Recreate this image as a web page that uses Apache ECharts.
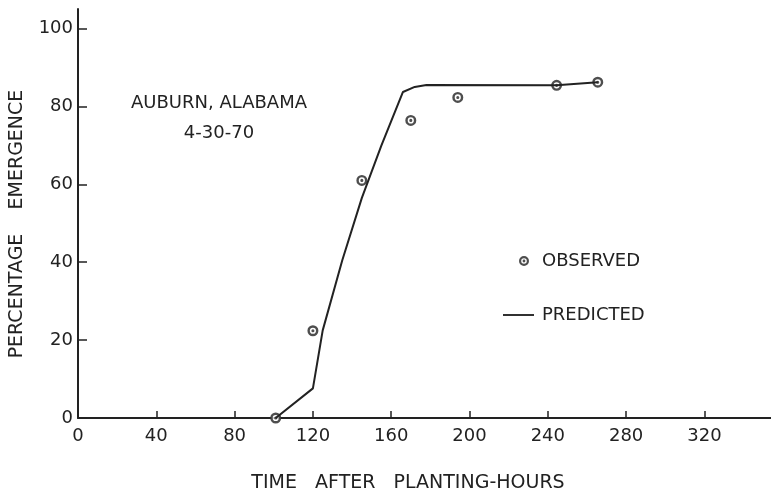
<!DOCTYPE html>
<html>
<head>
<meta charset="utf-8">
<script src="https://cdn.jsdelivr.net/npm/echarts@6/dist/echarts.min.js"></script>
<style>
    html, body {margin: 0; padding: 0; background: #fff;}
    #H_Chart {width: 771px; height: 493px;}
</style>
</head>
<body>
<div id="H_Chart"></div>
<script>
//观测值 (小时, 出苗百分比)
var obsHours = [101, 120, 145, 170, 194, 244.5, 265.5];
var obsPct = [0, 22.4, 61, 76.4, 82.3, 85.4, 86.2];

//预测曲线
var predHours = [101, 120, 125, 135, 145, 155, 166, 172, 178, 244.5, 265.5];
var predPct = [0, 7.6, 22.5, 40.5, 56.5, 70, 83.7, 85, 85.5, 85.4, 86.2];

//刻度
var xTicks = [0, 40, 80, 120, 160, 200, 240, 280, 320];
var yTicks = [0, 20, 40, 60, 80, 100];

var InkColor = "#222";
var FontName = "DejaVu Sans";

//靶心符号 外圈 + 中心点
var TargetPath = "path://M50,0 A50,50 0 1,1 50,100 A50,50 0 1,1 50,0 Z " +
    "M50,22 A28,28 0 1,0 50,78 A28,28 0 1,0 50,22 Z " +
    "M50,36 A14,14 0 1,1 50,64 A14,14 0 1,1 50,36 Z";

function Pairs(xs, ys) {
    var out = [];
    for (var i = 0; i < xs.length; i++) {
        out.push([xs[i], ys[i]]);
    }
    return out;
}

var Chart = echarts.init(document.getElementById("H_Chart"));
Chart.setOption({
    backgroundColor: "#fff",
    animation: false,
    grid: {left: 78, right: 0, top: 9, bottom: 75},
    textStyle: {fontFamily: FontName, color: InkColor},
    //两个图例分开放, 文字对齐
    legend: [
        {
            data: [{name: "OBSERVED", icon: TargetPath}],
            left: 514, top: 247,
            itemWidth: 10, itemHeight: 10,
            textStyle: {fontSize: 18, color: InkColor, fontFamily: FontName, padding: [0, 0, 0, 8]}
        },
        {
            data: [{name: "PREDICTED", icon: "path://M0,0 L100,0 L100,6 L0,6 Z"}],
            left: 498, top: 301,
            itemWidth: 31, itemHeight: 2,
            textStyle: {fontSize: 18, color: InkColor, fontFamily: FontName, padding: [0, 0, 0, 3]}
        }
    ],
    xAxis: {
        type: "value",
        min: 0, max: 354,
        splitLine: {show: false},
        axisLine: {lineStyle: {color: InkColor, width: 2}},
        axisTick: {inside: true, length: 7, customValues: xTicks, lineStyle: {color: InkColor, width: 1.5}},
        axisLabel: {customValues: xTicks, fontSize: 18, color: InkColor, margin: 9, fontFamily: FontName}
    },
    yAxis: {
        type: "value",
        min: 0, max: 105,
        splitLine: {show: false},
        axisLine: {show: true, lineStyle: {color: InkColor, width: 2}},
        axisTick: {show: true, inside: true, length: 9, customValues: yTicks, lineStyle: {color: InkColor, width: 1.5}},
        axisLabel: {customValues: yTicks, fontSize: 18, color: InkColor, margin: 5, fontFamily: FontName}
    },
    graphic: [
        {type: "text", x: 408, y: 483, style: {text: "TIME   AFTER   PLANTING-HOURS", font: "19px DejaVu Sans", fill: InkColor, textAlign: "center", textVerticalAlign: "middle"}},
        {type: "text", x: 17, y: 224, rotation: Math.PI / 2, style: {text: "PERCENTAGE    EMERGENCE", font: "19px DejaVu Sans", fill: InkColor, textAlign: "center", textVerticalAlign: "middle"}},
        {type: "text", x: 219, y: 103, style: {text: "AUBURN, ALABAMA", font: "18px DejaVu Sans", fill: InkColor, textAlign: "center", textVerticalAlign: "middle"}},
        {type: "text", x: 219, y: 133, style: {text: "4-30-70", font: "18px DejaVu Sans", fill: InkColor, textAlign: "center", textVerticalAlign: "middle"}}
    ],
    series: [
        {
            name: "PREDICTED",
            type: "line",
            data: Pairs(predHours, predPct),
            showSymbol: false,
            lineStyle: {color: InkColor, width: 2},
            itemStyle: {color: InkColor}
        },
        {
            //白底, 盖住圈内的线
            name: "obs_bg",
            type: "scatter",
            data: Pairs(obsHours, obsPct),
            symbol: "circle",
            symbolSize: 10,
            silent: true,
            itemStyle: {color: "#fff"}
        },
        {
            name: "OBSERVED",
            type: "scatter",
            data: Pairs(obsHours, obsPct),
            symbol: TargetPath,
            symbolSize: 11,
            itemStyle: {color: InkColor}
        }
    ]
});
</script>
</body>
</html>
